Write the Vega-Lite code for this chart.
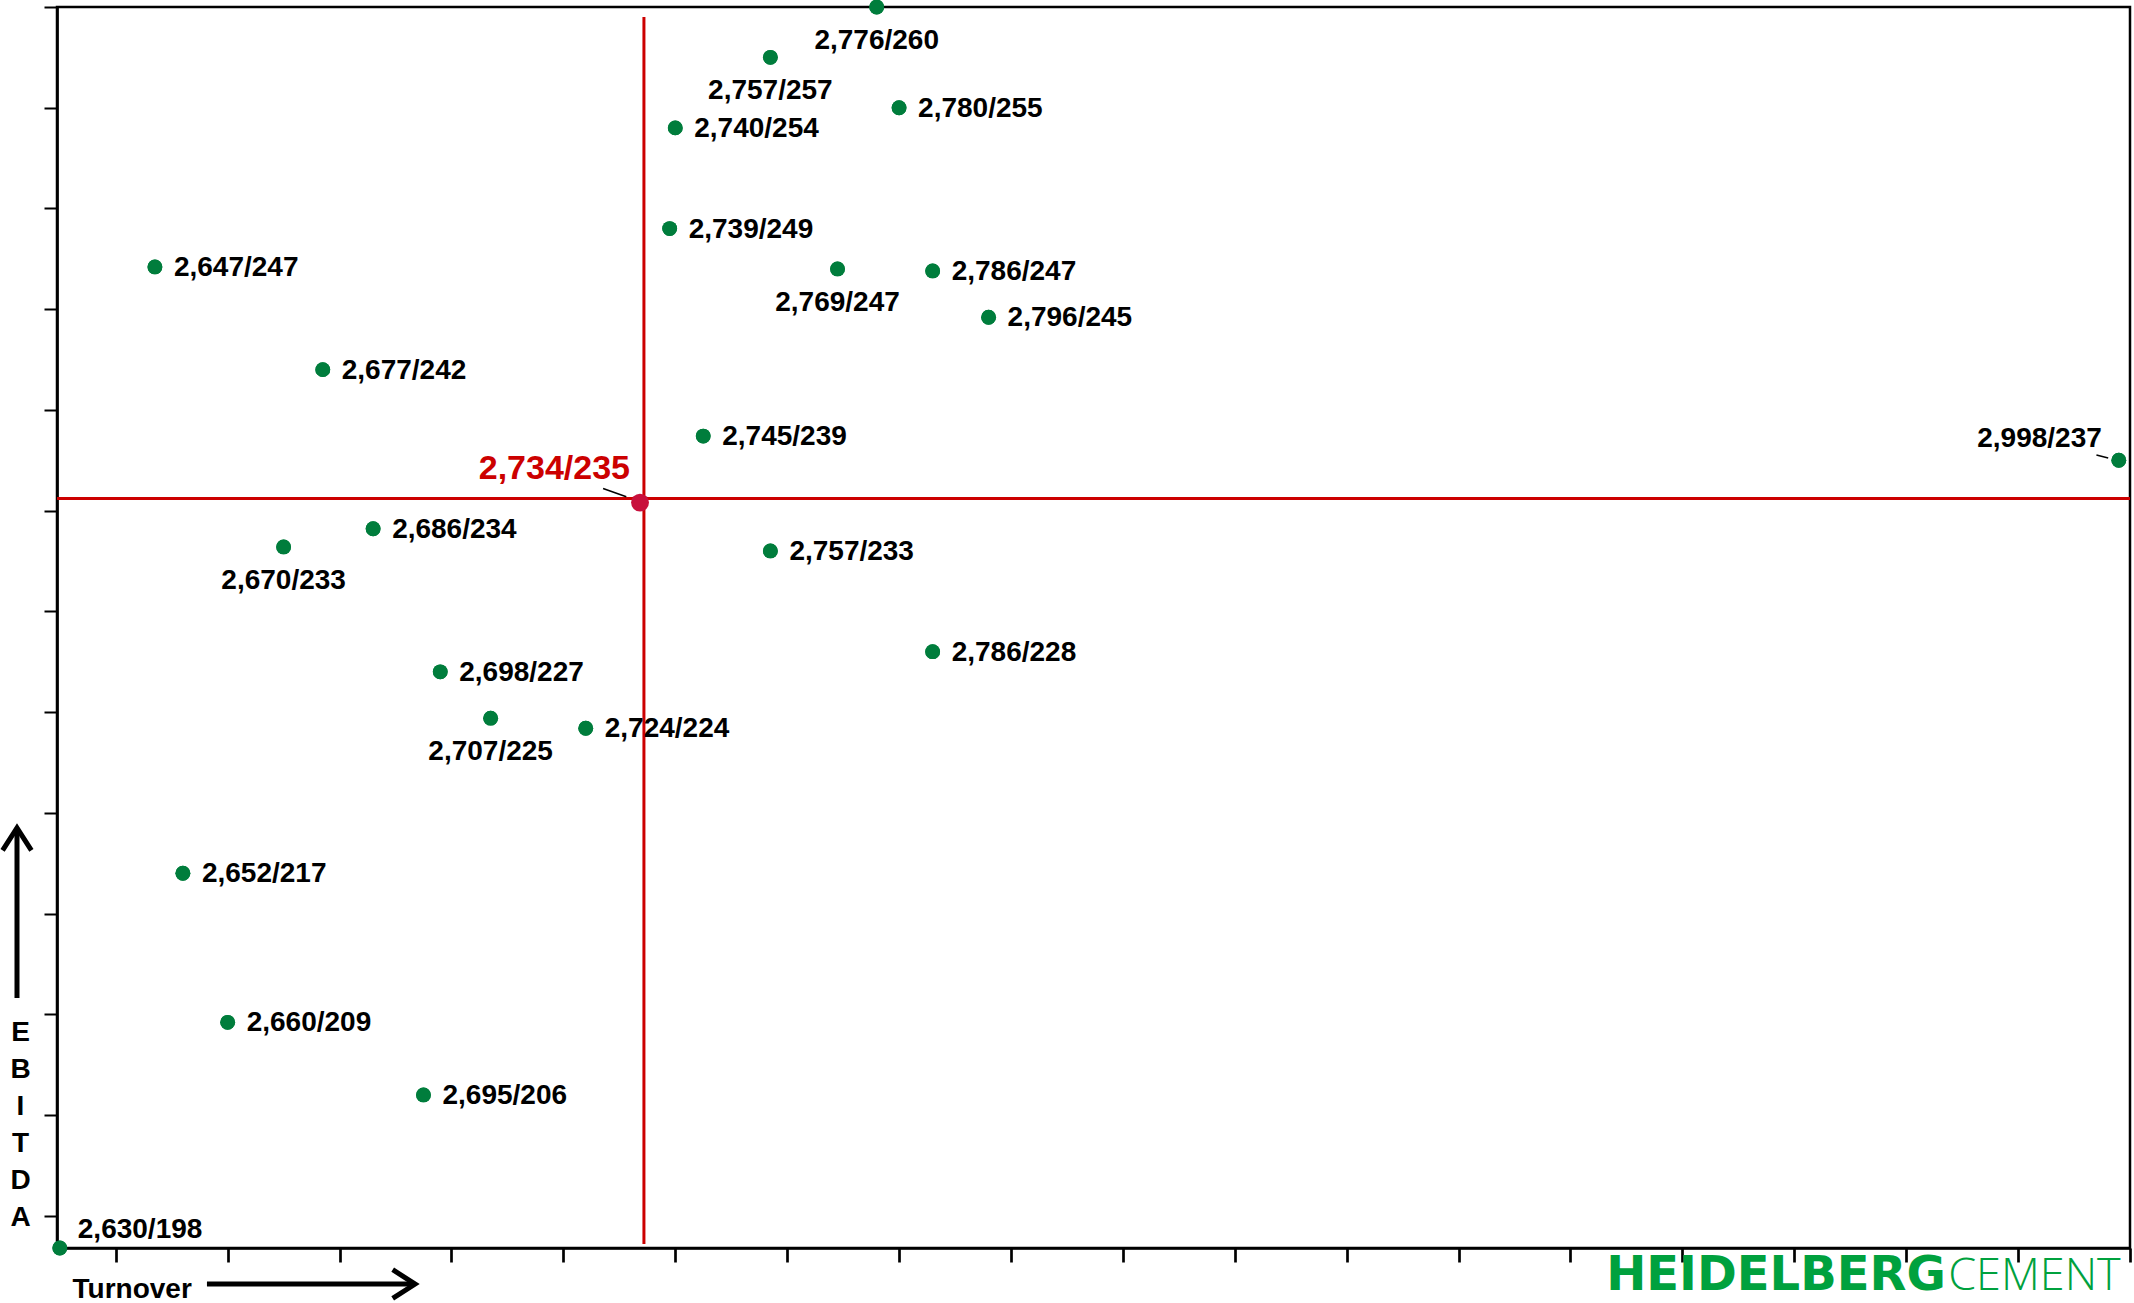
{
  "$schema": "https://vega.github.io/schema/vega-lite/v6.json",
  "width": 2073,
  "height": 1241,
  "autosize": {"type": "none"},
  "padding": {"left": 57, "top": 7, "right": 4, "bottom": 55},
  "background": "white",
  "config": {
    "view": {"stroke": "black", "strokeWidth": 2.5},
    "font": "Liberation Sans",
    "axis": {"labels": false, "grid": false, "domainColor": "black", "tickColor": "black"}
  },
  "datasets": {
    "points": [
      {"turnover": 2776, "ebitda": 260, "label": "2,776/260"},
      {"turnover": 2757, "ebitda": 257.5, "label": "2,757/257"},
      {"turnover": 2780, "ebitda": 255, "label": "2,780/255"},
      {"turnover": 2740, "ebitda": 254, "label": "2,740/254"},
      {"turnover": 2739, "ebitda": 249, "label": "2,739/249"},
      {"turnover": 2647, "ebitda": 247.1, "label": "2,647/247"},
      {"turnover": 2769, "ebitda": 247, "label": "2,769/247"},
      {"turnover": 2786, "ebitda": 246.9, "label": "2,786/247"},
      {"turnover": 2796, "ebitda": 244.6, "label": "2,796/245"},
      {"turnover": 2677, "ebitda": 242, "label": "2,677/242"},
      {"turnover": 2745, "ebitda": 238.7, "label": "2,745/239"},
      {"turnover": 2998, "ebitda": 237.5, "label": "2,998/237"},
      {"turnover": 2686, "ebitda": 234.1, "label": "2,686/234"},
      {"turnover": 2670, "ebitda": 233.2, "label": "2,670/233"},
      {"turnover": 2757, "ebitda": 233, "label": "2,757/233"},
      {"turnover": 2786, "ebitda": 228, "label": "2,786/228"},
      {"turnover": 2698, "ebitda": 227, "label": "2,698/227"},
      {"turnover": 2707, "ebitda": 224.7, "label": "2,707/225"},
      {"turnover": 2724, "ebitda": 224.2, "label": "2,724/224"},
      {"turnover": 2652, "ebitda": 217, "label": "2,652/217"},
      {"turnover": 2660, "ebitda": 209.6, "label": "2,660/209"},
      {"turnover": 2695, "ebitda": 206, "label": "2,695/206"},
      {"turnover": 2630, "ebitda": 198.4, "label": "2,630/198"}
    ],
    "highlight": [
      {"turnover": 2733.7, "ebitda": 235.4, "label": "2,734/235"}
    ]
  },
  "layer": [
    {
      "data": {"name": "points"},
      "mark": {"type": "point", "filled": true, "color": "#007d3c", "size": 220, "opacity": 1, "clip": false},
      "encoding": {
        "x": {
          "field": "turnover", "type": "quantitative",
          "scale": {"domain": [2629.5, 3000], "nice": false, "zero": false},
          "axis": {
            "values": [2640, 2660, 2680, 2700, 2720, 2740, 2760, 2780, 2800, 2820, 2840, 2860, 2880, 2900, 2920, 2940, 2960, 2980, 3000],
            "labels": false, "grid": false,
            "domainColor": "black", "domainWidth": 2.7,
            "tickColor": "black", "tickWidth": 2.7, "tickSize": 14,
            "title": "Turnover", "titleFont": "Liberation Sans", "titleFontSize": 28, "titleFontWeight": "bold",
            "titleColor": "black", "titleAlign": "left", "titleAnchor": "start",
            "titleX": 15, "titleY": 49, "titleBaseline": "alphabetic"
          }
        },
        "y": {
          "field": "ebitda", "type": "quantitative",
          "scale": {"domain": [198.4, 260], "nice": false, "zero": false},
          "axis": {
            "values": [200, 205, 210, 215, 220, 225, 230, 235, 240, 245, 250, 255, 260],
            "labels": false, "grid": false,
            "domainColor": "black", "domainWidth": 2.7,
            "tickColor": "black", "tickWidth": 2, "tickSize": 13,
            "title": ["E", "B", "I", "T", "D", "A"], "titleFont": "Liberation Sans", "titleFontSize": 28,
            "titleFontWeight": "bold", "titleColor": "black", "titleAngle": 0, "titleAlign": "center",
            "titleX": -37, "titleY": 1033, "titleBaseline": "alphabetic", "titleLineHeight": 37
          }
        }
      }
    },
    {
      "data": {"values": [{}]},
      "mark": {"type": "rule", "color": "#cc0000", "strokeWidth": 3, "clip": false},
      "encoding": {
        "x": {"datum": 2734.4, "type": "quantitative"},
        "y": {"datum": 198.6, "type": "quantitative"},
        "y2": {"datum": 259.5}
      }
    },
    {
      "data": {"values": [{}]},
      "mark": {"type": "rule", "color": "#cc0000", "strokeWidth": 3, "clip": false},
      "encoding": {
        "x": {"datum": 2629.5, "type": "quantitative"},
        "x2": {"datum": 3000},
        "y": {"datum": 235.6, "type": "quantitative"}
      }
    },
    {
      "data": {"name": "points"},
      "mark": {"type": "point", "filled": true, "color": "#007d3c", "size": 220, "opacity": 1, "clip": false},
      "encoding": {
        "x": {"field": "turnover", "type": "quantitative"},
        "y": {"field": "ebitda", "type": "quantitative"}
      }
    },
    {
      "data": {"name": "highlight"},
      "mark": {"type": "point", "filled": true, "color": "#c8103c", "size": 320, "opacity": 1, "clip": false},
      "encoding": {
        "x": {"field": "turnover", "type": "quantitative"},
        "y": {"field": "ebitda", "type": "quantitative"}
      }
    },
    {
      "data": {"name": "points"},
      "transform": [{"filter": {"field": "label", "oneOf": ["2,780/255", "2,740/254", "2,739/249", "2,647/247", "2,786/247", "2,796/245", "2,677/242", "2,745/239", "2,686/234", "2,757/233", "2,786/228", "2,698/227", "2,724/224", "2,652/217", "2,660/209", "2,695/206"]}}],
      "mark": {"type": "text", "align": "left", "baseline": "middle", "dx": 19, "dy": 1, "font": "Liberation Sans", "fontSize": 28, "fontWeight": "bold", "color": "black", "clip": false},
      "encoding": {
        "x": {"field": "turnover", "type": "quantitative"},
        "y": {"field": "ebitda", "type": "quantitative"},
        "text": {"field": "label"}
      }
    },
    {
      "data": {"name": "points"},
      "transform": [{"filter": {"field": "label", "oneOf": ["2,776/260", "2,757/257", "2,769/247", "2,670/233", "2,707/225"]}}],
      "mark": {"type": "text", "align": "center", "baseline": "middle", "dy": 34, "font": "Liberation Sans", "fontSize": 28, "fontWeight": "bold", "color": "black", "clip": false},
      "encoding": {
        "x": {"field": "turnover", "type": "quantitative"},
        "y": {"field": "ebitda", "type": "quantitative"},
        "text": {"field": "label"}
      }
    },
    {
      "data": {"name": "points"},
      "transform": [{"filter": {"field": "label", "equal": "2,998/237"}}],
      "mark": {"type": "text", "align": "right", "baseline": "middle", "dx": -17, "dy": -21, "font": "Liberation Sans", "fontSize": 28, "fontWeight": "bold", "color": "black", "clip": false},
      "encoding": {
        "x": {"field": "turnover", "type": "quantitative"},
        "y": {"field": "ebitda", "type": "quantitative"},
        "text": {"field": "label"}
      }
    },
    {
      "data": {"name": "points"},
      "transform": [{"filter": {"field": "label", "equal": "2,630/198"}}],
      "mark": {"type": "text", "align": "left", "baseline": "middle", "dx": 18, "dy": -18, "font": "Liberation Sans", "fontSize": 28, "fontWeight": "bold", "color": "black", "clip": false},
      "encoding": {
        "x": {"field": "turnover", "type": "quantitative"},
        "y": {"field": "ebitda", "type": "quantitative"},
        "text": {"field": "label"}
      }
    },
    {
      "data": {"name": "highlight"},
      "mark": {"type": "text", "align": "right", "baseline": "middle", "dx": -10, "dy": -34, "font": "Liberation Sans", "fontSize": 34, "fontWeight": "bold", "color": "#cc0000", "clip": false},
      "encoding": {
        "x": {"field": "turnover", "type": "quantitative"},
        "y": {"field": "ebitda", "type": "quantitative"},
        "text": {"field": "label"}
      }
    },
    {
      "data": {"values": [{}]},
      "mark": {"type": "rule", "color": "black", "strokeWidth": 1.5, "clip": false},
      "encoding": {
        "x": {"datum": 2994.0, "type": "quantitative"},
        "x2": {"datum": 2996.1},
        "y": {"datum": 237.76, "type": "quantitative"},
        "y2": {"datum": 237.61}
      }
    },
    {
      "data": {"values": [{}]},
      "mark": {"type": "rule", "color": "black", "strokeWidth": 1.5, "clip": false},
      "encoding": {
        "x": {"datum": 2727.1, "type": "quantitative"},
        "x2": {"datum": 2731.25},
        "y": {"datum": 236.1, "type": "quantitative"},
        "y2": {"datum": 235.69}
      }
    },
    {
      "data": {"values": [{}]},
      "mark": {"type": "rule", "color": "black", "strokeWidth": 5, "clip": false},
      "encoding": {
        "x": {"datum": 2656.3, "type": "quantitative"},
        "x2": {"datum": 2693.0},
        "y": {"datum": 196.61, "type": "quantitative"}
      }
    },
    {
      "data": {"values": [{}]},
      "mark": {"type": "point", "shape": "M -1.4 -0.9 L 0 0 L -1.4 0.9", "filled": false, "stroke": "black", "strokeWidth": 5, "size": 1024, "opacity": 1, "clip": false},
      "encoding": {
        "x": {"datum": 2693.5, "type": "quantitative"},
        "y": {"datum": 196.61, "type": "quantitative"}
      }
    },
    {
      "data": {"values": [{}]},
      "mark": {"type": "rule", "color": "black", "strokeWidth": 5, "clip": false},
      "encoding": {
        "x": {"datum": 2622.35, "type": "quantitative"},
        "y": {"datum": 210.81, "type": "quantitative"},
        "y2": {"datum": 219.1}
      }
    },
    {
      "data": {"values": [{}]},
      "mark": {"type": "point", "shape": "M -0.9 1.4 L 0 0 L 0.9 1.4", "filled": false, "stroke": "black", "strokeWidth": 5, "size": 1024, "opacity": 1, "clip": false},
      "encoding": {
        "x": {"datum": 2622.35, "type": "quantitative"},
        "y": {"datum": 219.25, "type": "quantitative"}
      }
    },
    {
      "data": {"values": [{}]},
      "mark": {"type": "text", "text": "HEIDELBERG", "align": "right", "baseline": "alphabetic", "font": "DejaVu Sans", "fontSize": 48, "fontWeight": "bold", "color": "#00a13e", "clip": false},
      "encoding": {
        "x": {"datum": 2967.1, "type": "quantitative"},
        "y": {"datum": 196.31, "type": "quantitative"}
      }
    },
    {
      "data": {"values": [{}]},
      "mark": {"type": "text", "text": "CEMENT", "align": "left", "baseline": "alphabetic", "font": "Open Sans", "fontSize": 45, "fontWeight": 300, "color": "#00a13e", "clip": false},
      "encoding": {
        "x": {"datum": 2967.5, "type": "quantitative"},
        "y": {"datum": 196.31, "type": "quantitative"}
      }
    }
  ]
}
